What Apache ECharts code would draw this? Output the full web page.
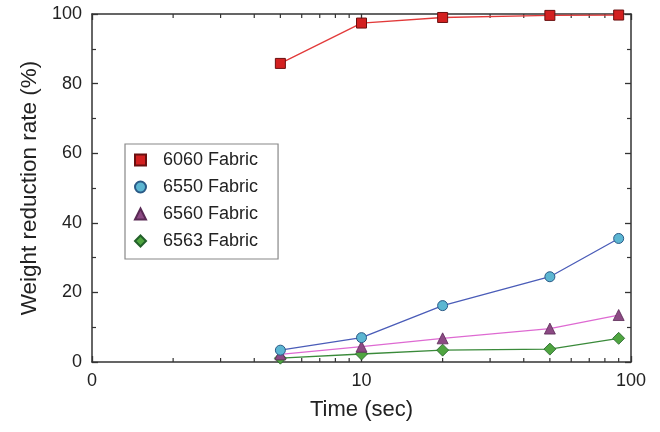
<!DOCTYPE html>
<html><head><meta charset="utf-8">
<script src="https://cdn.jsdelivr.net/npm/echarts@6/dist/echarts.min.js"></script>
<style>html,body{margin:0;padding:0;background:#fff}#c{width:660px;height:432px}</style>
</head><body><div id="c"></div>
<script>
const times = [5, 10, 20, 50, 90];
const s6060 = [85.8, 97.4, 99.0, 99.6, 99.7];
const s6550 = [3.4, 7.0, 16.2, 24.5, 35.5];
const s6560 = [2.2, 4.4, 6.8, 9.6, 13.5];
const s6563 = [1.1, 2.3, 3.4, 3.7, 6.8];
const seriesNames = ['6060 Fabric', '6550 Fabric', '6560 Fabric', '6563 Fabric'];
const xTickLabels = {1: '0', 10: '10', 100: '100'};
const xMinorTicks = [2,3,4,5,6,7,8,9,20,30,40,50,60,70,80,90];

const pairs = arr => times.map((t, i) => [t, arr[i]]);
const FONT = 'Liberation Sans, Arial, sans-serif';
const AX = '#333';

const chart = echarts.init(document.getElementById('c'), null, {renderer: 'canvas'});
const axisLine = {show: true, onZero: false, lineStyle: {color: AX, width: 1.5}};
chart.setOption({
  animation: false,
  backgroundColor: '#fff',
  grid: {left: 92, right: 29, top: 14, bottom: 70, containLabel: false},
  legend: {
    orient: 'vertical', left: 125, top: 144,
    padding: [6, 20, 8, 9],
    itemGap: 7, itemWidth: 11, itemHeight: 11,
    backgroundColor: '#fff', borderColor: '#888', borderWidth: 1.2, borderRadius: 0,
    textStyle: {fontFamily: FONT, fontSize: 18, color: '#222', lineHeight: 20, padding: [0,0,0,12]},
    data: [
      {name: seriesNames[0], icon: 'rect'},
      {name: seriesNames[1], icon: 'circle'},
      {name: seriesNames[2], icon: 'triangle'},
      {name: seriesNames[3], icon: 'diamond'}
    ]
  },
  xAxis: [{
    type: 'log', logBase: 10, min: 1, max: 100,
    name: 'Time (sec)', nameLocation: 'middle', nameGap: 37,
    nameTextStyle: {fontFamily: FONT, fontSize: 22, color: '#222'},
    axisLine: axisLine,
    axisTick: {show: true, inside: true, length: 6, lineStyle: {color: AX, width: 1.3}},
    axisLabel: {fontFamily: FONT, fontSize: 18, color: '#222', margin: 10,
      formatter: v => xTickLabels[Math.round(v)] !== undefined ? xTickLabels[Math.round(v)] : ''},
    splitLine: {show: false}
  }, {
    type: 'log', logBase: 10, min: 1, max: 100, position: 'top',
    axisLine: axisLine,
    axisTick: {show: true, inside: true, length: 6, lineStyle: {color: AX, width: 1.3}},
    axisLabel: {show: false}, splitLine: {show: false}
  }],
  yAxis: [{
    type: 'value', min: 0, max: 100, interval: 20,
    name: 'Weight reduction rate (%)', nameLocation: 'middle', nameGap: 50,
    nameTextStyle: {fontFamily: FONT, fontSize: 22.5, color: '#222'},
    axisLine: axisLine,
    axisTick: {show: true, inside: true, length: 6, lineStyle: {color: AX, width: 1.3}},
    minorTick: {show: true, splitNumber: 2, length: 4, lineStyle: {color: AX, width: 1.2}},
    axisLabel: {fontFamily: FONT, fontSize: 18, color: '#222', margin: 10},
    splitLine: {show: false}
  }, {
    type: 'value', min: 0, max: 100, interval: 20, position: 'right',
    axisLine: axisLine,
    axisTick: {show: true, inside: true, length: 6, lineStyle: {color: AX, width: 1.3}},
    minorTick: {show: true, splitNumber: 2, length: 4, lineStyle: {color: AX, width: 1.2}},
    axisLabel: {show: false}, splitLine: {show: false}
  }],
  series: [
    {
      name: 'minorTicks', type: 'custom', silent: true, clip: false, z: 1,
      xAxisIndex: 0, yAxisIndex: 0,
      data: xMinorTicks.map(v => [v]),
      renderItem: (params, api) => {
        const v = api.value(0);
        const b = api.coord([v, 0]);
        const t = api.coord([v, 100]);
        const st = {stroke: AX, lineWidth: 1.2};
        return {type: 'group', children: [
          {type: 'line', shape: {x1: b[0], y1: b[1], x2: b[0], y2: b[1] - 4}, style: st},
          {type: 'line', shape: {x1: t[0], y1: t[1], x2: t[0], y2: t[1] + 4}, style: st}
        ]};
      }
    },
    {
      name: seriesNames[0], type: 'line', data: pairs(s6060), z: 5,
      symbol: 'rect', symbolSize: 10,
      lineStyle: {color: '#e23a3a', width: 1.3},
      itemStyle: {color: '#d32020', borderColor: '#6a1010', borderWidth: 1}
    },
    {
      name: seriesNames[1], type: 'line', data: pairs(s6550), z: 5,
      symbol: 'circle', symbolSize: 10,
      lineStyle: {color: '#4a5cb8', width: 1.3},
      itemStyle: {color: '#5cb6d2', borderColor: '#2a5a86', borderWidth: 1}
    },
    {
      name: seriesNames[2], type: 'line', data: pairs(s6560), z: 4,
      symbol: 'triangle', symbolSize: 11,
      lineStyle: {color: '#de6ad2', width: 1.3},
      itemStyle: {color: '#8c4a84', borderColor: '#5a2a55', borderWidth: 0.8}
    },
    {
      name: seriesNames[3], type: 'line', data: pairs(s6563), z: 3,
      symbol: 'diamond', symbolSize: 12,
      lineStyle: {color: '#3a8a3a', width: 1.3},
      itemStyle: {color: '#4fa540', borderColor: '#22602a', borderWidth: 0.8}
    }
  ]
});
</script>
</body></html>
